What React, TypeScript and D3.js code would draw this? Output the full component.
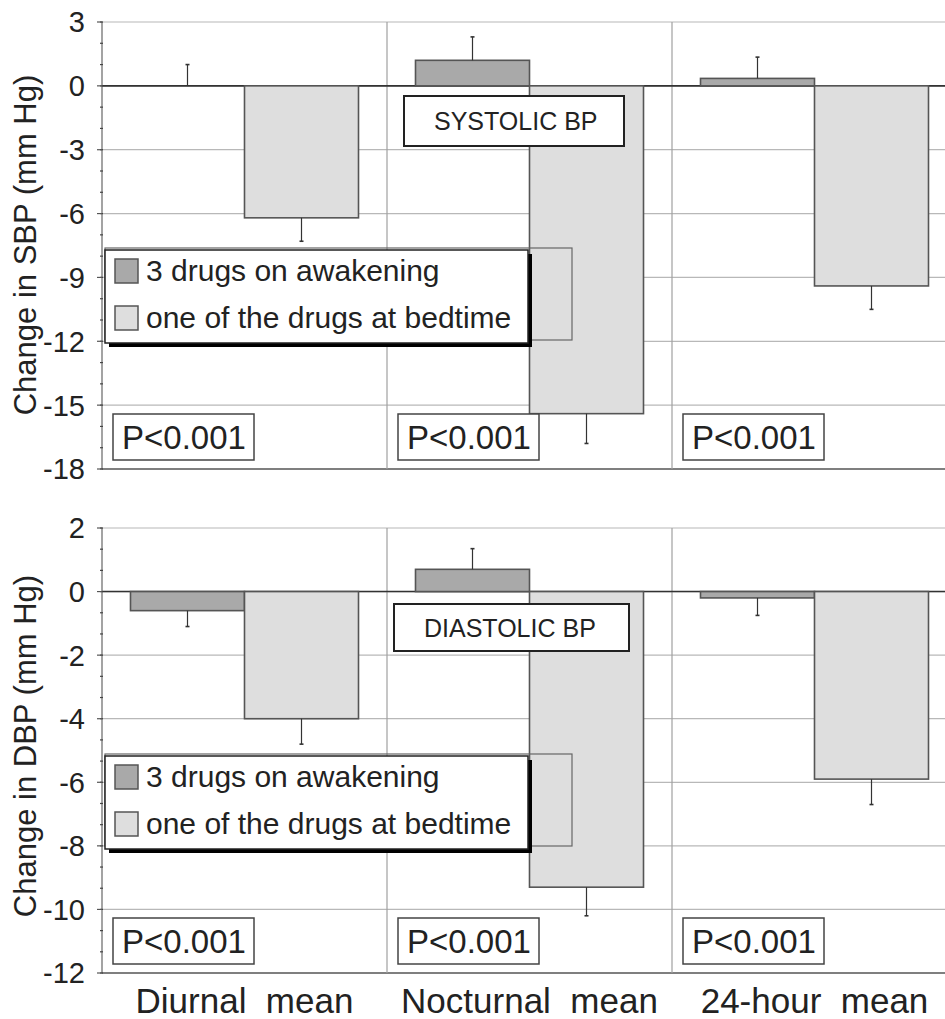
import React from "react";
import * as d3 from "d3";

const categories = ["Diurnal  mean", "Nocturnal  mean", "24-hour  mean"];
const seriesNames = ["3 drugs on awakening", "one of the drugs at bedtime"];
const seriesKeys = ["awakening", "bedtime"];
const pLabels = ["P<0.001", "P<0.001", "P<0.001"];

// systolic
const sbpAwakening = [0.0, 1.2, 0.35];
const sbpAwakeningSE = [1.0, 1.1, 1.0];
const sbpBedtime = [-6.2, -15.4, -9.4];
const sbpBedtimeSE = [1.1, 1.4, 1.1];
const sbpTicks = [3, 0, -3, -6, -9, -12, -15, -18];

// diastolic
const dbpAwakening = [-0.6, 0.7, -0.2];
const dbpAwakeningSE = [0.5, 0.65, 0.55];
const dbpBedtime = [-4.0, -9.3, -5.9];
const dbpBedtimeSE = [0.8, 0.9, 0.8];
const dbpTicks = [2, 0, -2, -4, -6, -8, -10, -12];

const FONT = "'Liberation Sans', Arial, sans-serif";
const colors = ["#a9a9a9", "#dedede"];

const x = d3.scaleBand().domain(categories).range([102, 957]);
const xInner = d3.scaleBand().domain(seriesKeys).range([0, x.bandwidth()]).paddingOuter(0.25);

type PanelProps = {
  top: number;
  bottom: number;
  ticks: number[];
  awake: number[];
  awakeSE: number[];
  bed: number[];
  bedSE: number[];
  yTitle: string;
  titleY: number;
  label: string;
  labelBox: [number, number, number, number];
  legendTop: number;
};

const Panel = ({ top, bottom, ticks, awake, awakeSE, bed, bedSE, yTitle, titleY, label, labelBox, legendTop }: PanelProps) => {
  const y = d3.scaleLinear().domain([d3.min(ticks)!, d3.max(ticks)!]).range([bottom, top]);
  const left = x.range()[0];
  const right = x.range()[1];
  const series = [
    { key: "awakening", vals: awake, se: awakeSE },
    { key: "bedtime", vals: bed, se: bedSE },
  ];
  const minorStep = (ticks[0] - ticks[1]) / 3;
  const minors = d3.range(d3.min(ticks)!, d3.max(ticks)! + 0.001, minorStep);

  return (
    <g>
      {/* grid */}
      {ticks.map((t) => (
        <line key={"g" + t} x1={left} x2={right} y1={y(t)} y2={y(t)} stroke={t === d3.min(ticks) ? "#555" : "#b8b8b8"} strokeWidth={t === d3.min(ticks) ? 1.5 : 1.2} />
      ))}
      {categories.slice(1).map((c) => (
        <line key={"v" + c} x1={x(c)} x2={x(c)} y1={top} y2={bottom} stroke="#a0a0a0" strokeWidth={1.2} />
      ))}
      <line x1={left} x2={right} y1={y(0)} y2={y(0)} stroke="#333" strokeWidth={1.6} />

      {/* left axis */}
      <line x1={left} x2={left} y1={top} y2={bottom} stroke="#666" strokeWidth={1.2} />
      {minors.map((m, i) => (
        <line key={"m" + i} x1={left - 2} x2={left + 1} y1={y(m)} y2={y(m)} stroke="#444" strokeWidth={1.2} />
      ))}
      {ticks.map((t) => (
        <g key={"t" + t}>
          <line x1={left - 5} x2={left} y1={y(t)} y2={y(t)} stroke="#555" strokeWidth={1.2} />
          <text x={85} y={y(t)} dy="0.36em" textAnchor="end" fontSize={29} fill="#222" fontFamily={FONT}>
            {t}
          </text>
        </g>
      ))}
      <text transform={`translate(36,${titleY}) rotate(-90)`} textAnchor="middle" fontSize={31} fill="#222" fontFamily={FONT}>
        {yTitle}
      </text>

      {/* bars */}
      {series.map((s, si) =>
        categories.map((c, ci) => {
          const v = s.vals[ci];
          const bx = x(c)! + xInner(s.key)!;
          const bw = xInner.bandwidth();
          const dir = v >= 0 ? 1 : -1;
          const eEnd = v + dir * s.se[ci];
          const cx = bx + bw / 2;
          return (
            <g key={s.key + c}>
              <rect x={bx} y={y(Math.max(0, v))} width={bw} height={Math.abs(y(v) - y(0))} fill={colors[si]} stroke="#555" strokeWidth={1.6} />
              <line x1={cx} x2={cx} y1={y(v)} y2={y(eEnd)} stroke="#333" strokeWidth={1.2} />
              <line x1={cx - 2} x2={cx + 2} y1={y(eEnd)} y2={y(eEnd)} stroke="#333" strokeWidth={1.6} />
            </g>
          );
        })
      )}

      {/* title box */}
      <rect x={labelBox[0]} y={labelBox[1]} width={labelBox[2]} height={labelBox[3]} fill="#fff" stroke="#222" strokeWidth={2} />
      <text x={labelBox[0] + 30} y={labelBox[1] + labelBox[3] / 2} dy="0.36em" fontSize={25} fill="#222" fontFamily={FONT}>
        {label}
      </text>

      {/* legend */}
      <rect x={105} y={legendTop - 2} width={467} height={92} fill="none" stroke="#666" strokeWidth={1.2} />
      <rect x={109} y={legendTop + 4} width={423} height={93} fill="#000" />
      <rect x={105} y={legendTop} width={423} height={93} fill="#fff" stroke="#222" strokeWidth={1.5} />
      {seriesNames.map((n, i) => (
        <g key={n}>
          <rect x={115} y={legendTop + 9 + i * 47} width={23} height={24} fill={colors[i]} stroke="#555" strokeWidth={1.5} />
          <text x={146} y={legendTop + 31 + i * 47} fontSize={30} fill="#222" fontFamily={FONT}>
            {n}
          </text>
        </g>
      ))}

      {/* p values */}
      {categories.map((c, i) => (
        <g key={"p" + c}>
          <rect x={x(c)! + 11} y={bottom - 55} width={141} height={46} fill="#fff" stroke="#444" strokeWidth={1.5} />
          <text x={x(c)! + 20} y={bottom - 20} fontSize={33} fill="#222" fontFamily={FONT}>
            {pLabels[i]}
          </text>
        </g>
      ))}
    </g>
  );
};

export default function App() {
  return (
    <svg width={945} height={1019} style={{ position: "absolute", left: 0, top: 0, background: "#fff" }}>
      <rect width={945} height={1019} fill="#fff" />
      <Panel
        top={22}
        bottom={469}
        ticks={sbpTicks}
        awake={sbpAwakening}
        awakeSE={sbpAwakeningSE}
        bed={sbpBedtime}
        bedSE={sbpBedtimeSE}
        yTitle="Change in SBP (mm Hg)"
        titleY={245}
        label="SYSTOLIC BP"
        labelBox={[404, 96, 220, 50]}
        legendTop={250}
      />
      <Panel
        top={528}
        bottom={973}
        ticks={dbpTicks}
        awake={dbpAwakening}
        awakeSE={dbpAwakeningSE}
        bed={dbpBedtime}
        bedSE={dbpBedtimeSE}
        yTitle="Change in DBP (mm Hg)"
        titleY={746}
        label="DIASTOLIC BP"
        labelBox={[394, 604, 235, 47]}
        legendTop={756}
      />
      {categories.map((c) => (
        <text key={"xl" + c} x={x(c)! + x.bandwidth() / 2} y={1013} textAnchor="middle" fontSize={35} fill="#222" fontFamily={FONT} style={{ whiteSpace: "pre" }}>
          {c}
        </text>
      ))}
    </svg>
  );
}
